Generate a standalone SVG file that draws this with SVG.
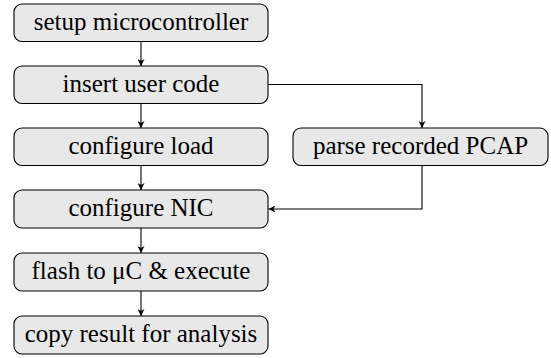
<svg xmlns="http://www.w3.org/2000/svg" width="551" height="358" viewBox="0 0 551 358">
<defs>
<marker id="a" viewBox="0 0 10 10" refX="10" refY="5" markerWidth="7" markerHeight="7" markerUnits="userSpaceOnUse" orient="auto">
<path d="M0,0 L10,5 L0,10 L3,5 Z" fill="#000"/>
</marker>
</defs>
<g id="connectors" fill="none" stroke="#000" stroke-width="1.1">
<path d="M141,41.5 V66" marker-end="url(#a)"/>
<path d="M141,103.5 V128" marker-end="url(#a)"/>
<path d="M141,165.5 V190" marker-end="url(#a)"/>
<path d="M141,228 V253" marker-end="url(#a)"/>
<path d="M141,291 V316" marker-end="url(#a)"/>
<path d="M268,84.5 H422 V128" marker-end="url(#a)"/>
<path d="M422,166 V209 H268.5" marker-end="url(#a)"/>
</g>
<g id="nodes" font-family="Liberation Serif, serif" font-size="25" text-anchor="middle">
<g id="n1"><rect x="14" y="4" width="254" height="37.5" rx="8" fill="#e8e8e8" stroke="#000" stroke-width="1.1"/><text x="141" y="30">setup microcontroller</text></g>
<g id="n2"><rect x="14" y="66" width="254" height="37.5" rx="8" fill="#e8e8e8" stroke="#000" stroke-width="1.1"/><text x="141" y="92">insert user code</text></g>
<g id="n3"><rect x="14" y="128" width="254" height="37.5" rx="8" fill="#e8e8e8" stroke="#000" stroke-width="1.1"/><text x="141" y="154">configure load</text></g>
<g id="n4"><rect x="14" y="190" width="254" height="38" rx="8" fill="#e8e8e8" stroke="#000" stroke-width="1.1"/><text x="141" y="216">configure NIC</text></g>
<g id="n5"><rect x="14" y="253" width="254" height="38" rx="8" fill="#e8e8e8" stroke="#000" stroke-width="1.1"/><text x="141" y="279">flash to μC &amp; execute</text></g>
<g id="n6"><rect x="14" y="316" width="254" height="38" rx="8" fill="#e8e8e8" stroke="#000" stroke-width="1.1"/><text x="141" y="342">copy result for analysis</text></g>
<g id="n7"><rect x="293" y="128" width="255" height="37.5" rx="8" fill="#e8e8e8" stroke="#000" stroke-width="1.1"/><text x="420.5" y="154">parse recorded PCAP</text></g>
</g>
</svg>
